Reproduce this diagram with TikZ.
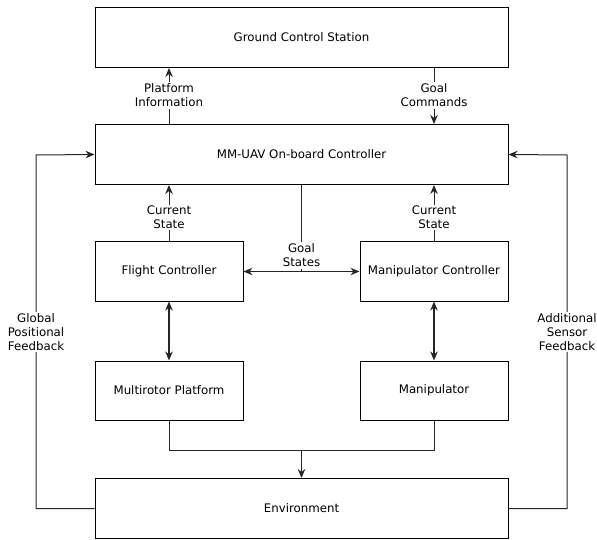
\documentclass[tikz,border=0pt]{standalone}
\usepackage{fontspec}
\setmainfont{DejaVu Sans}
\usetikzlibrary{arrows.meta}
\begin{document}
\begin{tikzpicture}[x=1pt,y=-1pt,
  box/.style={draw=black, line width=1pt, inner sep=0pt, font=\fontsize{11.8}{14}\selectfont},
  wide/.style={box, minimum width=413pt, minimum height=60pt},
  small/.style={box, minimum width=148pt, minimum height=59pt},
  conn/.style={draw=black!85, line width=1pt},
  tip/.style={-{Stealth[length=9pt,width=7.5pt]}},
  dtip/.style={{Stealth[length=9pt,width=7.5pt]}-{Stealth[length=9pt,width=7.5pt]}},
  lab/.style={fill=white, inner sep=1.5pt, align=center, font=\fontsize{11.8}{14}\selectfont}]
\useasboundingbox (0,0) rectangle (597,540);
\node[wide] (gcs) at (301.5,37.5) {Ground Control Station};
\node[wide] (uav) at (301.5,154.5) {MM-UAV On-board Controller};
\node[small] (fc) at (169,271.5) {Flight Controller};
\node[small] (mc) at (434,271.5) {Manipulator Controller};
\node[small] (mp) at (169,390.5) {Multirotor Platform};
\node[small] (ma) at (434,390.5) {Manipulator};
\node[wide] (env) at (301.5,508.5) {Environment};

% GCS <-> UAV
\draw[conn,tip] (uav.north -| fc) -- (gcs.south -| fc);
\node[lab] (pi) at (169,95.5) {Platform\\Information};
\draw[conn,tip] (gcs.south -| mc) -- (uav.north -| mc);
\node[lab] (gc) at (434,95.5) {Goal\\Commands};

% current states
\draw[conn,tip] (fc.north) -- (uav.south -| fc);
\node[lab] (cs1) at (169,217.5) {Current\\State};
\draw[conn,tip] (mc.north) -- (uav.south -| mc);
\node[lab] (cs2) at (434,217.5) {Current\\State};

% goal states
\coordinate (gsj) at (301.5,272);
\draw[conn, line width=1.5pt] (uav.south) -- (gsj);
\draw[conn,dtip] (fc.east) -- (mc.west);
\node[lab] (gs) at (301.5,255.5) {Goal\\States};

% controllers <-> hardware
\draw[conn,dtip, line width=1.4pt] (fc.south) -- (mp.north);
\draw[conn,dtip, line width=1.4pt] (mc.south) -- (ma.north);

% hardware -> environment
\coordinate (jl) at (169,450);
\coordinate (jr) at (434,450);
\coordinate (jm) at (301.5,450);
\draw[conn] (mp.south) -- (jl) -- (jr) -- (ma.south);
\draw[conn,tip, line width=1.5pt] (jm) -- (env.north);

% feedback loops
\coordinate (lb) at (36,508.5);
\coordinate (lt) at (36,155);
\draw[conn,tip] (env.west) -- (lb) -- (lt) -- (uav.west);
\node[lab] (gpf) at (36,332) {Global\\Positional\\Feedback};
\coordinate (rb) at (567,508.5);
\coordinate (rt) at (567,155);
\draw[conn,tip] (env.east) -- (rb) -- (rt) -- (uav.east);
\node[lab] (asf) at (567,332) {Additional\\Sensor\\Feedback};
\end{tikzpicture}
\end{document}
